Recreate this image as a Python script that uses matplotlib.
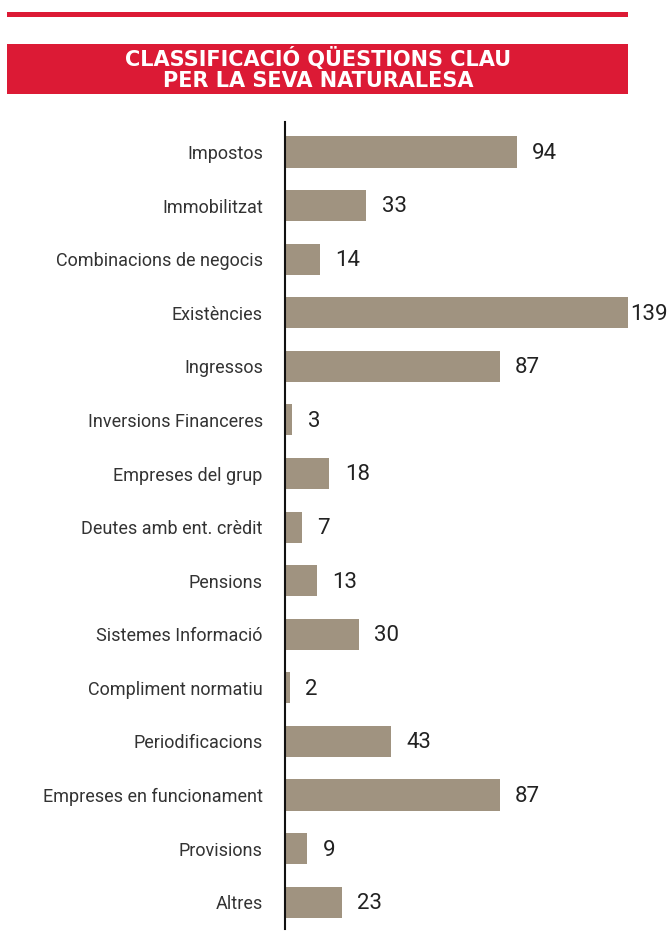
import matplotlib.pyplot as plt
from matplotlib.patches import Rectangle

# data
categories = ["Impostos", "Immobilitzat", "Combinacions de negocis", "Existències",
              "Ingressos", "Inversions Financeres", "Empreses del grup",
              "Deutes amb ent. crèdit", "Pensions", "Sistemes Informació",
              "Compliment normatiu", "Periodificacions", "Empreses en funcionament",
              "Provisions", "Altres"]
values = [94, 33, 14, 139, 87, 3, 18, 7, 13, 30, 2, 43, 87, 9, 23]
title = "CLASSIFICACIÓ QÜESTIONS CLAU\nPER LA SEVA NATURALESA"

red = "#dc1a35"
bar_col = "#a09380"

W, H = 670, 949
fig = plt.figure(figsize=(W / 100, H / 100), dpi=100)

# top red rule and title banner
fig.add_artist(Rectangle((7 / W, 1 - 17 / H), 621 / W, 5 / H,
                         transform=fig.transFigure, color=red, lw=0))
fig.add_artist(Rectangle((7 / W, 1 - 94 / H), 621 / W, 50 / H,
                         transform=fig.transFigure, color=red, lw=0))
fig.text(318 / W, 1 - 69 / H, title, color="white", ha="center", va="center",
         fontsize=15, fontweight="bold", family="DejaVu Sans",
         linespacing=1.12)

# bar chart
ax = fig.add_axes([285 / W, 20 / H, (W - 285) / W, (929 - 122) / H])
pos = list(range(len(categories)))
ax.barh(pos, values, height=0.58, color=bar_col)
ax.set_ylim(14.5, -0.56)
ax.set_xlim(0, 156)

labels = []
for p, v in zip(pos, values):
    t = ax.annotate(str(v), (v, p), xytext=(11, -1), textcoords="offset points",
                    va="center", ha="left", fontsize=16, color="#222222",
                    family=["Roboto", "DejaVu Sans"])
    labels.append(t)

ax.set_yticks(pos)
ax.set_yticklabels(categories, fontsize=13, color="#333333",
                   family=["Roboto", "DejaVu Sans"])
ax.tick_params(axis="y", length=0, pad=16)
ax.set_xticks([])
for s in ["top", "right", "bottom"]:
    ax.spines[s].set_visible(False)
ax.spines["left"].set_linewidth(1.5)
ax.spines["left"].set_color("#111111")

# pull in any value label that would run past the right edge
fig.canvas.draw()
r = fig.canvas.get_renderer()
for t in labels:
    bb = t.get_window_extent(r)
    if bb.x1 > W - 2:
        dx = (bb.x1 - (W - 2)) * 72 / 100
        x0, y0 = t.xyann
        t.xyann = (x0 - dx, y0)

fig.savefig("out.png", dpi=100)
